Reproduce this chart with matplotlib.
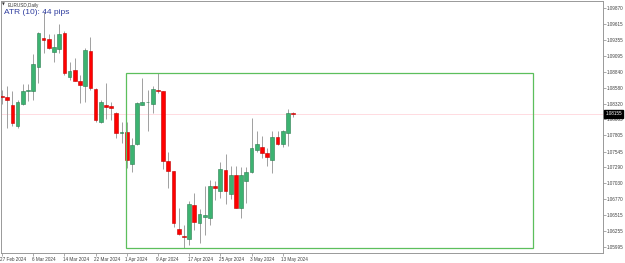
import matplotlib
matplotlib.use('Agg')
import matplotlib.pyplot as plt
import matplotlib.transforms as mtransforms
import numpy as np

# daily EURUSD candles, 27 Feb 2024 .. 15 May 2024
opens = [1.0844, 1.0843, 1.0830, 1.0796, 1.0831, 1.0852, 1.0852, 1.0891, 1.0938, 1.0937,
         1.0916, 1.0921, 1.0947, 1.0876, 1.0887, 1.0869, 1.0860, 1.0917, 1.0856, 1.0803,
         1.0830, 1.0828, 1.0817, 1.0785, 1.0786, 1.0734, 1.0766, 1.0830, 1.0834, 1.0832,
         1.0854, 1.0853, 1.0739, 1.0723, 1.0629, 1.0618, 1.0613, 1.0668, 1.0639, 1.0648,
         1.0647, 1.0699, 1.0691, 1.0725, 1.0686, 1.0717, 1.0663, 1.0707, 1.0721, 1.0757,
         1.0762, 1.0752, 1.0741, 1.0778, 1.0766, 1.0785, 1.0816]
highs = [1.0854, 1.0860, 1.0853, 1.0838, 1.0864, 1.0864, 1.0913, 1.0948, 1.0981, 1.0945,
         1.0945, 1.0961, 1.0949, 1.0900, 1.0906, 1.0879, 1.0922, 1.0940, 1.0857, 1.0838,
         1.0866, 1.0835, 1.0819, 1.0803, 1.0803, 1.0776, 1.0834, 1.0874, 1.0854, 1.0860,
         1.0882, 1.0853, 1.0753, 1.0723, 1.0663, 1.0636, 1.0675, 1.0687, 1.0661, 1.0698,
         1.0708, 1.0706, 1.0738, 1.0751, 1.0731, 1.0731, 1.0729, 1.0730, 1.0809, 1.0788,
         1.0779, 1.0760, 1.0788, 1.0788, 1.0789, 1.0823, 1.0819]
lows = [1.0832, 1.0793, 1.0796, 1.0793, 1.0830, 1.0837, 1.0838, 1.0866, 1.0914, 1.0921,
        1.0900, 1.0914, 1.0879, 1.0870, 1.0868, 1.0833, 1.0835, 1.0854, 1.0803, 1.0801,
        1.0807, 1.0806, 1.0776, 1.0768, 1.0728, 1.0722, 1.0765, 1.0830, 1.0788, 1.0817,
        1.0849, 1.0726, 1.0696, 1.0633, 1.0619, 1.0598, 1.0603, 1.0627, 1.0607, 1.0619,
        1.0636, 1.0676, 1.0679, 1.0670, 1.0678, 1.0663, 1.0647, 1.0671, 1.0720, 1.0754,
        1.0744, 1.0731, 1.0720, 1.0765, 1.0762, 1.0763, 1.0810]
closes = [1.0843, 1.0838, 1.0801, 1.0835, 1.0853, 1.0854, 1.0896, 1.0946, 1.0935, 1.0922,
          1.0924, 1.0945, 1.0882, 1.0885, 1.0869, 1.0862, 1.0919, 1.0857, 1.0806, 1.0835,
          1.0827, 1.0825, 1.0785, 1.0786, 1.0741, 1.0765, 1.0833, 1.0834, 1.0835, 1.0856,
          1.0853, 1.0739, 1.0723, 1.0639, 1.0621, 1.0616, 1.0670, 1.0640, 1.0653, 1.0651,
          1.0699, 1.0696, 1.0726, 1.0691, 1.0717, 1.0663, 1.0717, 1.0722, 1.0760, 1.0767,
          1.0752, 1.0746, 1.0778, 1.0767, 1.0787, 1.0817, 1.08155]

price_ticks = [1.09870, 1.09615, 1.09355, 1.09095, 1.08840, 1.08580, 1.08320, 1.08065,
               1.07805, 1.07545, 1.07290, 1.07030, 1.06770, 1.06515, 1.06255, 1.05995]
date_labels = ['27 Feb 2024', '6 Mar 2024', '14 Mar 2024', '22 Mar 2024', '1 Apr 2024',
               '9 Apr 2024', '17 Apr 2024', '25 Apr 2024', '3 May 2024', '13 May 2024']
date_idx = [0, 6, 12, 18, 24, 30, 36, 42, 48, 54]

# box drawn on the chart: from the 1 Apr bar out into the future
box_start, box_end = 23.85, 102.1

plt.rcParams['font.family'] = ['Liberation Sans', 'DejaVu Sans']

fig = plt.figure(figsize=(6.25, 2.63), dpi=100)
ax = fig.add_axes([1 / 625, 10 / 263, 602 / 625, 252 / 263])

o = np.array(opens)
h = np.array(highs)
l = np.array(lows)
c = np.array(closes)
x = np.arange(len(o))
up = c >= o

ax.vlines(x, l, h, color='#a0a0a0', lw=0.7, zorder=2)
body_lo = np.minimum(o, c)
body_h = np.maximum(np.abs(c - o), 0.00008)
ax.bar(x[up], body_h[up], bottom=body_lo[up], width=0.72,
       color='#3cb371', edgecolor='#2b7d50', lw=0.4, zorder=3)
ax.bar(x[~up], body_h[~up], bottom=body_lo[~up], width=0.72,
       color='#ff0000', edgecolor='#c00000', lw=0.4, zorder=3)

# current price line
ax.axhline(c[-1], color='#ffd6dc', lw=0.6, zorder=1)

# rectangle
box_top = h[24:].max()
box_bot = l[24:].min()
ax.add_patch(plt.Rectangle((box_start, box_bot), box_end - box_start, box_top - box_bot,
                           fill=False, edgecolor='#5cbf5c', lw=0.9, zorder=4))

ax.set_xlim(-0.19, 115.6)
ax.set_ylim(1.1 - 0.000162 * 253, 1.1 - 0.000162 * 1)

ax.yaxis.tick_right()
ax.set_yticks(price_ticks)
ax.set_yticklabels(['%.5f' % p for p in price_ticks])
ax.tick_params(axis='y', length=2, width=0.5, color='#888888', labelsize=3.3,
               labelcolor='#404040', pad=1)

ax.set_xticks(date_idx)
ax.set_xticklabels(date_labels, ha='left')
ax.tick_params(axis='x', length=2, width=0.5, color='#888888', labelsize=3.3,
               labelcolor='#404040', pad=1.2)
for lab in ax.get_xticklabels():
    lab.set_transform(lab.get_transform() + mtransforms.ScaledTranslation(-1.5 / 100, 0, fig.dpi_scale_trans))

for s in ax.spines.values():
    s.set_color('#999999')
    s.set_linewidth(0.7)

# last price tag
trans = mtransforms.blended_transform_factory(ax.transAxes, ax.transData)
ax.text(1.004, c[-1], '%.5f' % c[-1], transform=trans, fontsize=3.3, color='white',
        va='center', ha='left', clip_on=False,
        bbox=dict(boxstyle='square,pad=0.25', fc='black', ec='black'))

fig.text(2 / 625, 1 - 5 / 263, '\u25bc', fontsize=2.6, color='#333333', va='center',
         family=['DejaVu Sans'])
fig.text(8 / 625, 1 - 5 / 263, 'EURUSD,Daily', fontsize=3.3, color='#333333', va='center')
fig.text(4 / 625, 1 - 12.5 / 263, 'ATR (10): 44 pips', fontsize=6, color='#2f3d9f', va='center')

fig.savefig('out.png', dpi=100)
